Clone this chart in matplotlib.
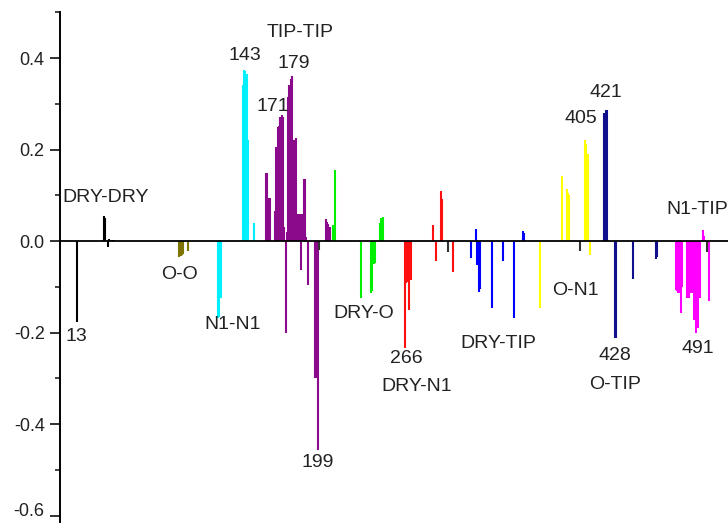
import matplotlib
matplotlib.use("Agg")
import matplotlib.pyplot as plt
from matplotlib.ticker import MultipleLocator, FormatStrFormatter

plt.rcParams['font.family'] = ['Liberation Sans', 'DejaVu Sans']

# residue number / value for each contact group
dry_dry_res = [13, 34, 35, 37, 38, 40, 42]
dry_dry_val = [-0.178, 0.055, 0.05, -0.012, 0.004, 0.003, 0.003]

o_o_res = [92, 93, 94, 95, 99]
o_o_val = [-0.035, -0.033, -0.03, -0.028, -0.022]

n1_n1_res = [122, 123, 124, 141, 142, 143, 144, 145, 150]
n1_n1_val = [-0.168, -0.165, -0.125, 0.34, 0.374, 0.372, 0.366, 0.22, 0.04]

tip_tip_res = [159, 160, 161, 162, 166, 167, 168, 169, 170, 171, 172, 173, 174, 175,
               176, 177, 178, 179, 180, 181, 182, 183, 184, 185, 186, 187, 188, 189,
               190, 191, 197, 198, 199, 205, 206, 207, 208]
tip_tip_val = [0.148, 0.148, 0.094, 0.094, 0.066, 0.205, 0.25, 0.252, 0.27, 0.275, 0.27,
               0.03, -0.2, 0.02, 0.315, 0.34, 0.355, 0.36, 0.22, 0.22, 0.225, 0.06, 0.06,
               0.06, -0.063, 0.06, 0.135, 0.135, 0.008, -0.095, -0.3, -0.3, -0.457,
               0.048, 0.042, 0.038, 0.03]

dry_o_res = [211, 212, 232, 240, 241, 242, 243, 247, 248, 249]
dry_o_val = [0.035, 0.155, -0.124, -0.114, -0.11, -0.05, -0.048, 0.04, 0.05, 0.053]

dry_n1_res = [266, 267, 268, 269, 270, 271, 288, 290, 294, 295, 303]
dry_n1_val = [-0.234, -0.092, -0.09, -0.15, -0.085, -0.085, 0.035, -0.044, 0.11, 0.092, -0.067]

dry_tip_res = [317, 321, 322, 323, 324, 333, 342, 350, 357, 358]
dry_tip_val = [-0.038, 0.026, -0.052, -0.111, -0.105, -0.147, -0.044, -0.169, 0.022, 0.018]

o_n1_res = [370, 387, 391, 392, 393, 405, 406, 407, 409]
o_n1_val = [-0.147, 0.142, 0.113, 0.104, 0.1, 0.22, 0.213, 0.19, -0.03]

o_tip_res = [420, 421, 422, 428, 429, 442, 460, 461]
o_tip_val = [0.28, 0.286, 0.286, -0.213, -0.213, -0.084, -0.04, -0.035]

n1_tip_res = [475, 476, 477, 478, 479, 480, 484, 485, 486, 487, 488, 489, 490, 491,
              492, 493, 494, 496, 497, 501]
n1_tip_val = [-0.107, -0.11, -0.114, -0.114, -0.158, -0.1, -0.125, -0.125, -0.114,
              -0.114, -0.114, -0.173, -0.115, -0.2, -0.19, -0.125, -0.125, 0.024, 0.01,
              -0.132]

# small dark grey marks between groups
other_res = [200, 299, 401, 499]
other_val = [-0.02, -0.023, -0.021, -0.023]

groups = [
    (dry_dry_res, dry_dry_val, 'black'),
    (o_o_res, o_o_val, '#7d7500'),
    (n1_n1_res, n1_n1_val, '#00f0ff'),
    (tip_tip_res, tip_tip_val, '#8b0a8b'),
    (dry_o_res, dry_o_val, '#00ee00'),
    (dry_n1_res, dry_n1_val, '#ff1010'),
    (dry_tip_res, dry_tip_val, '#0000ff'),
    (o_n1_res, o_n1_val, '#ffff00'),
    (o_tip_res, o_tip_val, '#10108c'),
    (n1_tip_res, n1_tip_val, '#ff00ff'),
    (other_res, other_val, '#333333'),
]

# text labels: text, residue, value
labels = [
    ('DRY-DRY', 2, 0.096, 'left'),
    ('13', 13, -0.208, 'center'),
    ('O-O', 92, -0.074, 'center'),
    ('N1-N1', 133.5, -0.183, 'center'),
    ('143', 143, 0.405, 'center'),
    ('TIP-TIP', 185, 0.455, 'center'),
    ('179', 180, 0.389, 'center'),
    ('171', 164, 0.295, 'center'),
    ('199', 198.5, -0.483, 'center'),
    ('DRY-O', 234, -0.158, 'center'),
    ('266', 267.5, -0.257, 'center'),
    ('DRY-N1', 275, -0.318, 'center'),
    ('DRY-TIP', 338.5, -0.223, 'center'),
    ('O-N1', 398, -0.109, 'center'),
    ('405', 402, 0.267, 'center'),
    ('421', 421.5, 0.325, 'center'),
    ('428', 428, -0.251, 'center'),
    ('O-TIP', 428, -0.313, 'center'),
    ('N1-TIP', 491.5, 0.069, 'center'),
    ('491', 492.3, -0.234, 'center'),
]

fig = plt.figure(figsize=(7.28, 5.24), dpi=100)
ax = fig.add_axes([0.0824, 0.003, 0.9176, 0.9736])

for res, val, col in groups:
    ax.vlines(res, 0, val, colors=col, lw=1.5)

ax.axhline(0, color='black', lw=1.3, zorder=3)

for txt, x, y, ha in labels:
    ax.text(x, y, txt, ha=ha, va='center', fontsize=14, color='#222222')

ax.set_xlim(0, 515.4)
ax.set_ylim(-0.615, 0.5)

for s in ['top', 'right', 'bottom']:
    ax.spines[s].set_visible(False)
ax.spines['left'].set_linewidth(1.4)
ax.set_xticks([])
ax.yaxis.set_major_locator(MultipleLocator(0.2))
ax.yaxis.set_minor_locator(MultipleLocator(0.1))
ax.yaxis.set_major_formatter(FormatStrFormatter('%.1f'))
ax.tick_params(axis='y', which='major', length=7, width=1.3, labelsize=13, pad=4, colors='#222222')
ax.tick_params(axis='y', which='minor', length=3.5, width=1.2, colors='#222222')
ax.set_yticks([-0.6, -0.4, -0.2, 0.0, 0.2, 0.4])
# keep the lowest tick label inside the picture
ax.get_yticklabels()[0].set_va('baseline')
ax.get_yticklabels()[0].set_y(-0.6098)

fig.savefig('out.png', dpi=100)
